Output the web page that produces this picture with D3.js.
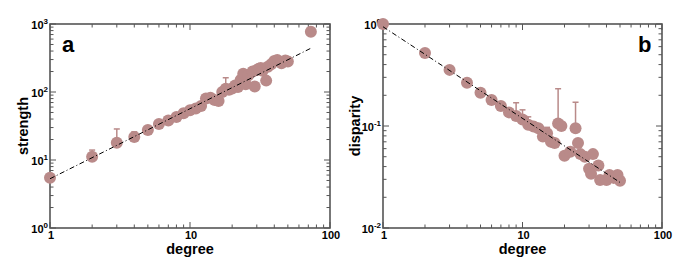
<!DOCTYPE html>
<html>
<head>
<meta charset="utf-8">
<script src="https://cdn.jsdelivr.net/npm/d3@7"></script>
<style>
body { margin: 0; background: #fff; }
svg { font-family: "Liberation Sans", Arial, sans-serif; }
.tlabel { font-size: 11px; font-weight: bold; fill: #000; }
.title { font-size: 14.5px; font-weight: bold; fill: #000; }
.panel { font-size: 22px; font-weight: bold; fill: #000; }
</style>
</head>
<body>
<svg id="chart" width="685" height="266"></svg>
<script>
// panel a: strength vs degree
const degA = [1, 2, 3, 4, 5, 6, 7, 8, 9, 10, 11, 12, 13, 14, 15, 16, 17, 18, 19, 20, 21, 22, 23, 24, 25, 26, 28, 29, 30, 31, 32, 33, 35, 36, 38, 40, 42, 45, 48, 50, 73];
const strA = [5.5, 11.2, 18, 21.8, 27.6, 33.8, 38, 43, 48.6, 54, 57, 62, 80, 82, 76, 74, 100, 112, 108, 113, 125, 118, 150, 185, 130, 175, 200, 120, 210, 220, 225, 205, 147, 235, 255, 285, 295, 265, 290, 280, 770];
const errA = [[2, 14], [3, 28.6], [4, 26], [9, 56], [18, 162]];
const fitA = [[1, 5.3], [73, 440]];

// panel b: disparity vs degree
const degB = [1, 2, 3, 4, 5, 6, 7, 8, 9, 10, 11, 12, 13, 14, 15, 16, 17, 18, 19, 20, 22, 24, 25, 26, 28, 30, 31, 32, 35, 36, 40, 42, 45, 48, 50];
const disB = [1.0, 0.52, 0.355, 0.266, 0.212, 0.18, 0.157, 0.136, 0.125, 0.116, 0.103, 0.099, 0.095, 0.079, 0.085, 0.07, 0.068, 0.106, 0.1, 0.051, 0.056, 0.095, 0.068, 0.053, 0.05, 0.038, 0.034, 0.053, 0.041, 0.0295, 0.0295, 0.033, 0.031, 0.033, 0.029];
const errB = [[9, 0.169], [10, 0.144], [11, 0.123], [15, 0.097], [18, 0.232], [24, 0.171]];
const fitB = [[1, 0.94], [50, 0.028]];

const xTicks = [1, 10, 100];
const yTicksA = [0, 1, 2, 3];
const yTicksB = [-2, -1, 0];

const svg = d3.select('#chart');
const markColor = '#b98a89';

function panel(opt) {
	var x = d3.scaleLog().domain([1, 100]).range([opt.left, opt.right]);
	var y = d3.scaleLog().domain(opt.ydom).range([opt.bottom, opt.top]);
	var g = svg.append('g');

	var xMinor = x.ticks();
	var yMinor = y.ticks();
	var isMajor = (v) => Math.abs(Math.log10(v) - Math.round(Math.log10(v))) < 1e-6;

	// ticks on all four sides, pointing inward
	xMinor.forEach(function (v) {
		var len = isMajor(v) ? 6 : 3.5;
		g.append('line').attr('x1', x(v)).attr('x2', x(v))
			.attr('y1', opt.bottom).attr('y2', opt.bottom - len)
			.attr('stroke', '#555').attr('stroke-width', 1);
		g.append('line').attr('x1', x(v)).attr('x2', x(v))
			.attr('y1', opt.top).attr('y2', opt.top + len)
			.attr('stroke', '#555').attr('stroke-width', 1);
	});
	yMinor.forEach(function (v) {
		var len = isMajor(v) ? 6 : 3.5;
		g.append('line').attr('y1', y(v)).attr('y2', y(v))
			.attr('x1', opt.left).attr('x2', opt.left + len)
			.attr('stroke', '#555').attr('stroke-width', 1);
		g.append('line').attr('y1', y(v)).attr('y2', y(v))
			.attr('x1', opt.right).attr('x2', opt.right - len)
			.attr('stroke', '#555').attr('stroke-width', 1);
	});

	g.append('rect')
		.attr('x', opt.left).attr('y', opt.top)
		.attr('width', opt.right - opt.left).attr('height', opt.bottom - opt.top)
		.attr('fill', 'none').attr('stroke', '#555').attr('stroke-width', 1.6);

	// tick labels
	xTicks.forEach(function (v) {
		g.append('text').attr('class', 'tlabel')
			.attr('x', x(v) + 1).attr('y', opt.bottom + 11)
			.attr('text-anchor', 'middle').text(v);
	});
	opt.yexp.forEach(function (e) {
		var t = g.append('text').attr('class', 'tlabel')
			.attr('x', opt.left - 2).attr('y', y(Math.pow(10, e)) + 5)
			.attr('text-anchor', 'end');
		t.append('tspan').text('10');
		t.append('tspan').attr('dy', -5).style('font-size', '8px').text(e);
	});

	// axis titles
	g.append('text').attr('class', 'title')
		.attr('x', (opt.left + opt.right) / 2).attr('y', 254)
		.attr('text-anchor', 'middle').text('degree');
	g.append('text').attr('class', 'title')
		.attr('transform', 'translate(' + opt.ytx + ',' + (opt.top + opt.bottom) / 2 + ') rotate(-90)')
		.attr('text-anchor', 'middle').text(opt.ytitle);

	g.append('text').attr('class', 'panel')
		.attr('x', opt.lx).attr('y', 52).text(opt.name);

	// error bars
	var pts = opt.k.map((k, i) => [k, opt.v[i]]);
	opt.err.forEach(function (e) {
		var base = pts.find((p) => p[0] === e[0]);
		g.append('line').attr('x1', x(e[0])).attr('x2', x(e[0]))
			.attr('y1', y(base[1])).attr('y2', y(e[1]))
			.attr('stroke', markColor).attr('stroke-width', 1.5);
		g.append('line').attr('x1', x(e[0]) - 3).attr('x2', x(e[0]) + 3)
			.attr('y1', y(e[1])).attr('y2', y(e[1]))
			.attr('stroke', markColor).attr('stroke-width', 1.5);
	});

	g.selectAll('.dot').data(pts).enter().append('circle')
		.attr('cx', (d) => x(d[0])).attr('cy', (d) => y(d[1]))
		.attr('r', 6).attr('fill', markColor);

	var line = d3.line().x((d) => x(d[0])).y((d) => y(d[1]));
	g.append('path').attr('d', line(opt.fit))
		.attr('fill', 'none').attr('stroke', '#000').attr('stroke-width', 1)
		.attr('stroke-dasharray', '5,2.5,1,2.5');
}

panel({
	left: 50, right: 330, top: 24, bottom: 228,
	ydom: [1, 1000], yexp: yTicksA,
	k: degA, v: strA, err: errA, fit: fitA,
	ytitle: 'strength', ytx: 28, name: 'a', lx: 62
});

panel({
	left: 383, right: 662, top: 24, bottom: 228,
	ydom: [0.01, 1], yexp: yTicksB,
	k: degB, v: disB, err: errB, fit: fitB,
	ytitle: 'disparity', ytx: 360, name: 'b', lx: 638
});
</script>
</body>
</html>
